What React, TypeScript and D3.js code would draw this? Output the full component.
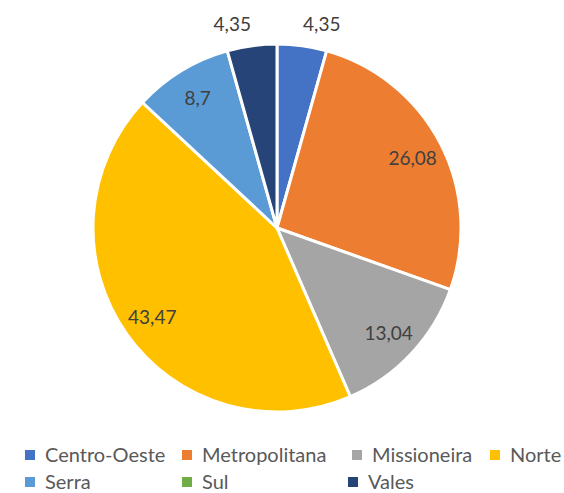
import React from "react";
import * as d3 from "d3";

const categories = ["Centro-Oeste", "Metropolitana", "Missioneira", "Norte", "Serra", "Sul", "Vales"];
const values = [4.35, 26.08, 13.04, 43.47, 8.7, 0, 4.35];
const labels = ["4,35", "26,08", "13,04", "43,47", "8,7", "", "4,35"];
const colors = ["#4472C4", "#ED7D31", "#A5A5A5", "#FFC000", "#5B9BD5", "#70AD47", "#264478"];

const W = 564;
const H = 493;
const cx = 277;
const cy = 228;
const R = 184;

const legendRows = [
  { y: 462, items: [0, 1, 2, 3], xs: [25, 182, 352, 490] },
  { y: 489, items: [4, 5, 6], xs: [25, 182, 348] },
];

export default function App() {
  const data = categories.map((c, i) => ({ c, v: values[i], l: labels[i], col: colors[i] }));
  const pie = d3.pie<any>().value((d) => d.v).sort(null).startAngle(0).endAngle(2 * Math.PI);
  const arcs = pie(data);
  const arc = d3.arc<any>().innerRadius(0).outerRadius(R);
  const rIn = R * 0.83;
  const rOut = R + 22;
  const inner = d3.arc<any>().innerRadius(rIn).outerRadius(rIn);
  const outer = d3.arc<any>().innerRadius(rOut).outerRadius(rOut);

  return (
    <svg width={W} height={H} style={{ position: "absolute", left: 0, top: 0, fontFamily: "Lato, sans-serif" }}>
      <rect width={W} height={H} fill="#fff" />
      <g transform={`translate(${cx},${cy})`}>
        {arcs.map((a, i) =>
          a.data.v > 0 ? (
            <path key={i} d={arc(a) as string} fill={a.data.col} stroke="#fff" strokeWidth={3} strokeLinejoin="round" />
          ) : null
        )}
        {arcs.map((a, i) => {
          if (!a.data.l) return null;
          const small = a.data.v < 5;
          const [x, y] = small ? outer.centroid(a) : inner.centroid(a);
          const anchor = small ? (x >= 0 ? "start" : "end") : "middle";
          return (
            <text
              key={"l" + i}
              x={small ? x - Math.sign(x) * 2 : x}
              y={y}
              textAnchor={anchor}
              dominantBaseline="central"
              fontSize={19}
              fill="#404040"
            >
              {a.data.l}
            </text>
          );
        })}
      </g>
      {legendRows.map((row, ri) =>
        row.items.map((idx, k) => (
          <g key={ri + "-" + k} transform={`translate(${row.xs[k]},${row.y})`}>
            <rect x={0} y={-12} width={10} height={10} fill={colors[idx]} />
            <text x={20} y={0} fontSize={20} fill="#595959">
              {categories[idx]}
            </text>
          </g>
        ))
      )}
    </svg>
  );
}
